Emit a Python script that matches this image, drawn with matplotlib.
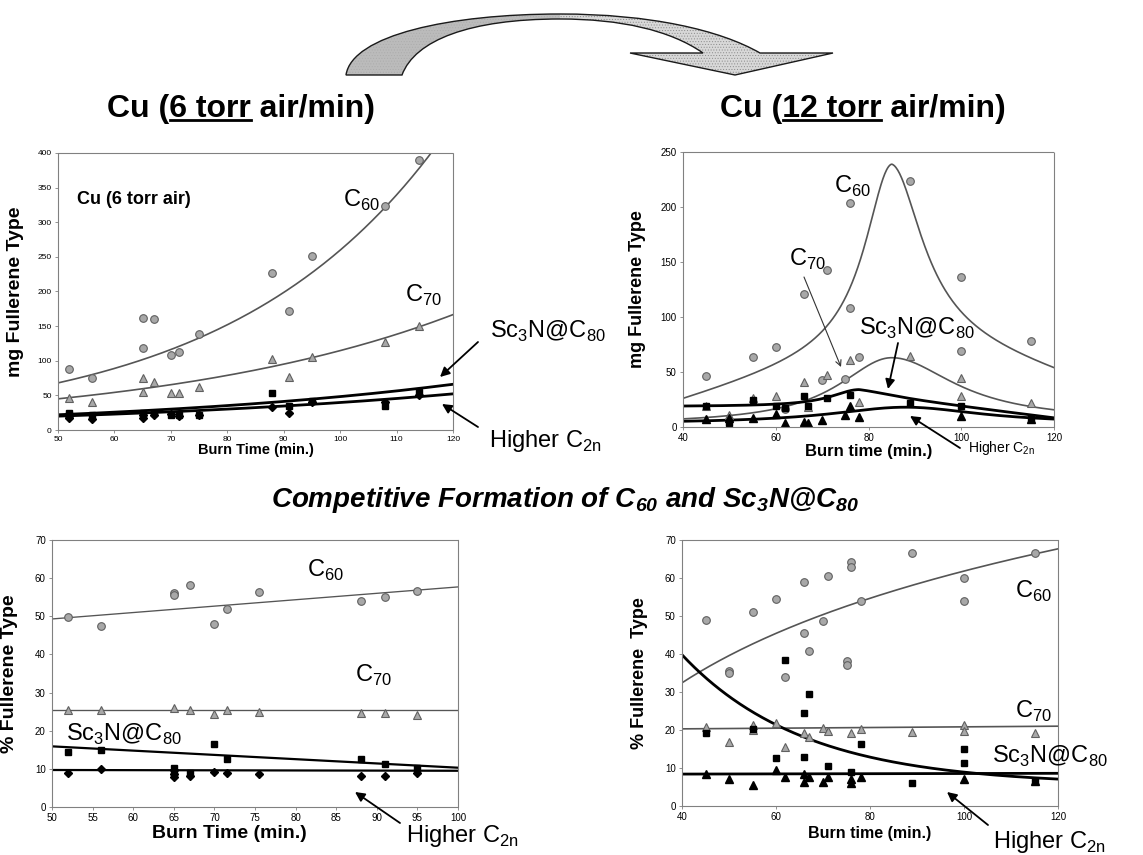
import numpy as np
import matplotlib
matplotlib.use("Agg")
import matplotlib.pyplot as plt
from matplotlib.patches import FancyArrowPatch, PathPatch, Rectangle
from matplotlib.path import Path
from matplotlib.lines import Line2D

W, H = 1143, 855
plt.rcParams['font.family'] = ['Liberation Sans', 'DejaVu Sans']
plt.rcParams['hatch.linewidth'] = 0.4

# ---------------- data ----------------
# Cu, 6 torr air/min : mg of each fullerene type vs burn time
t6_c60_x = [52, 56, 65, 65, 67, 70, 71.5, 75, 88, 91, 95, 108, 114]
t6_c60_y = [88, 75, 162, 119, 160, 108, 112, 138, 227, 172, 251, 323, 390]
t6_c70_x = [52, 56, 65, 65, 67, 70, 71.5, 75, 88, 91, 95, 108, 114]
t6_c70_y = [46, 40, 75, 55, 69, 54, 54, 62, 103, 77, 106, 127, 150]
t6_sc_x = [52, 52, 56, 65, 67, 70, 71.5, 75, 88, 91, 95, 108, 114]
t6_sc_y = [24, 22, 22, 25, 24, 22, 22, 22, 53, 35, 42, 34, 55]
t6_hi_x = [52, 52, 56, 65, 65, 67, 70, 71.5, 75, 88, 91, 95, 108, 114]
t6_hi_y = [17, 20, 16, 17, 22, 22, 23, 20, 21, 33, 25, 40, 40, 50]
# exponential trend lines  y = a * exp(b * (t - 50))
t6_trend_c60 = (68.0, 0.0268)
t6_trend_c70 = (45.0, 0.0187)
t6_trend_sc = (22.0, 0.0157)
t6_trend_hi = (20.0, 0.0137)

# Cu, 12 torr air/min : mg of each fullerene type vs burn time
t12_c60_x = [45, 55, 60, 62, 66, 70, 71, 75, 76, 76, 78, 89, 100, 100, 115]
t12_c60_y = [46, 64, 73, 16, 121, 43, 143, 44, 204, 108, 64, 224, 136, 69, 78]
t12_c70_x = [45, 50, 55, 60, 66, 67, 71, 76, 78, 89, 100, 100, 115]
t12_c70_y = [19, 11, 26, 28, 41, 18, 47, 61, 23, 65, 45, 28, 22]
t12_sc_x = [45, 50, 55, 60, 62, 66, 67, 71, 76, 89, 100, 115]
t12_sc_y = [19, 4, 25, 19, 17, 28, 19, 26, 29, 22, 19, 8]
t12_hi_x = [45, 50, 55, 60, 62, 66, 67, 70, 75, 76, 78, 100, 115]
t12_hi_y = [7, 8, 8, 12, 4, 5, 4, 6, 11, 19, 9, 10, 7]
# peaked trend curves: centre, top, (base, slope, width) left and right of centre
t12_trend_c60 = (85.0, 239.0, (75.6, 1.187, 7.0), (90.9, -1.265, 8.0))
t12_trend_c70 = (85.0, 63.0, (2.0, 0.0, 14.0), (5.0, 0.0, 16.6))
t12_trend_sc = (78.0, 34.0, (18.5, 0.0, 7.5), (30.0, -0.52, 9.0))
t12_trend_hi = (88.0, 18.0, (3.0, 0.0, 20.0), (3.0, 0.0, 20.0))

# Cu, 6 torr air/min : % of each fullerene type
p6_c60_x = [52, 56, 65, 65, 67, 70, 71.5, 75.5, 88, 91, 95]
p6_c60_y = [49.7, 47.4, 56.0, 55.6, 58.2, 47.9, 51.8, 56.3, 54.0, 55.1, 56.6]
p6_c70_x = [52, 56, 65, 67, 70, 71.5, 75.5, 88, 91, 95]
p6_c70_y = [25.4, 25.4, 26.0, 25.4, 24.5, 25.4, 25.0, 24.7, 24.7, 24.1]
p6_sc_x = [52, 56, 65, 65, 67, 70, 71.5, 88, 91, 95]
p6_sc_y = [14.3, 14.9, 10.3, 9.2, 9.0, 16.6, 12.7, 12.7, 11.4, 10.3]
p6_hi_x = [52, 56, 65, 65, 65, 67, 70, 71.5, 75.5, 88, 91, 95]
p6_hi_y = [9.0, 10.0, 9.6, 7.9, 8.7, 8.1, 9.3, 8.9, 8.7, 8.0, 8.0, 9.0]
# linear trend lines  y = y50 + slope * (t - 50)
p6_trend_c60 = (49.3, 0.168)
p6_trend_c70 = (25.4, 0.0)
p6_trend_sc = (15.9, -0.112)
p6_trend_hi = (9.7, -0.004)

# Cu, 12 torr air/min : % of each fullerene type
p12_c60_x = [45, 50, 50, 55, 60, 62, 66, 66, 67, 70, 71, 75, 75, 76, 76, 78, 89, 100, 100, 115]
p12_c60_y = [48.9, 35.6, 35.0, 51.0, 54.5, 33.9, 58.9, 45.6, 40.9, 48.8, 60.4, 38.2, 37.0,
             64.3, 63.0, 54.0, 66.7, 59.9, 54.0, 66.7]
p12_c70_x = [45, 50, 55, 55, 60, 62, 66, 67, 70, 71, 76, 78, 89, 100, 100, 115]
p12_c70_y = [20.9, 16.8, 21.3, 20.0, 21.9, 15.4, 19.3, 18.2, 20.4, 19.8, 19.1, 20.2, 19.5,
             21.3, 19.7, 19.1]
p12_sc_x = [45, 55, 60, 62, 66, 66, 67, 71, 76, 78, 89, 100, 100, 115]
p12_sc_y = [19.3, 20.2, 12.7, 38.4, 24.4, 13.0, 29.5, 10.5, 9.0, 16.3, 6.0, 14.9, 11.2, 6.6]
p12_hi_x = [45, 50, 55, 60, 62, 66, 66, 67, 70, 71, 76, 76, 78, 100, 115]
p12_hi_y = [8.4, 7.2, 5.6, 9.6, 7.6, 8.3, 6.4, 7.6, 6.3, 7.6, 6.0, 7.0, 7.6, 7.0, 6.6]
p12_trend_c60 = (-86.0, 32.1)          # y = a + b ln t
p12_trend_c70 = (20.3, 0.0088)         # y = y40 + slope (t - 40)
p12_trend_sc = (5.5, 34.3, 26.0)       # y = c + a exp(-(t - 40) / tau)
p12_trend_hi = (8.4, 0.0025)           # y = y40 + slope (t - 40)

# ---------------- helpers ----------------
fig = plt.figure(figsize=(W / 100, H / 100), dpi=100)


def fx(x):
    return x / W


def fy(y):
    return 1 - y / H


def make_axes(l, t, r, b, tick_size=7):
    ax = fig.add_axes([fx(l), fy(b), (r - l) / W, (b - t) / H])
    for s in ax.spines.values():
        s.set_linestyle((0, (1, 1)))
        s.set_color('#808080')
        s.set_linewidth(0.8)
    ax.tick_params(labelsize=tick_size, length=2.5, width=0.6, color='#808080', pad=2)
    return ax


C60_STYLE = dict(ls='none', marker='o', ms=5.5, mfc='#a8a8a8', mec='#606060', mew=0.8)
C70_STYLE = dict(ls='none', marker='^', ms=5.5, mfc='#a8a8a8', mec='#606060', mew=0.8)
SQ_STYLE = dict(ls='none', marker='s', ms=4.2, mfc='black', mec='black')
DI_STYLE = dict(ls='none', marker='D', ms=4.2, mfc='black', mec='black')
TRI_STYLE = dict(ls='none', marker='^', ms=5.2, mfc='black', mec='black')
THIN = dict(color='#555555', lw=1.2)
THICK = dict(color='black', lw=2.0)


def peak_curve(t, spec):
    x0, top, left, right = spec
    out = np.empty_like(t)
    for side, mask in ((left, t < x0), (right, t >= x0)):
        b, s, w = side
        d = t[mask] - x0
        out[mask] = b + s * d + (top - b) / (1 + (d / w) ** 2)
    return out


def label(x, y, s, size=17, **kw):
    fig.text(fx(x), fy(y), s, fontsize=size, va='baseline', ha='left', **kw)


def arrow(x0, y0, x1, y1, style='-|>', ms=14, lw=1.3, color='black'):
    fig.add_artist(FancyArrowPatch((fx(x0), fy(y0)), (fx(x1), fy(y1)),
                                   transform=fig.transFigure, arrowstyle=style,
                                   mutation_scale=ms, lw=lw, color=color,
                                   shrinkA=0, shrinkB=0))


C60 = r'C$_\mathregular{60}$'
C70 = r'C$_\mathregular{70}$'
SC = r'Sc$_\mathregular{3}$N@C$_\mathregular{80}$'
HI = r'Higher C$_\mathregular{2n}$'

# ---------------- panel: 6 torr, mg ----------------
ax1 = make_axes(58, 153, 453, 430, tick_size=6)
tt = np.linspace(50, 120, 300)
ax1.plot(tt, t6_trend_c60[0] * np.exp(t6_trend_c60[1] * (tt - 50)), **THIN)
ax1.plot(tt, t6_trend_c70[0] * np.exp(t6_trend_c70[1] * (tt - 50)), **THIN)
ax1.plot(tt, t6_trend_sc[0] * np.exp(t6_trend_sc[1] * (tt - 50)), **THICK)
ax1.plot(tt, t6_trend_hi[0] * np.exp(t6_trend_hi[1] * (tt - 50)), **THICK)
ax1.plot(t6_c60_x, t6_c60_y, **C60_STYLE)
ax1.plot(t6_c70_x, t6_c70_y, **C70_STYLE)
ax1.plot(t6_sc_x, t6_sc_y, **SQ_STYLE)
ax1.plot(t6_hi_x, t6_hi_y, **DI_STYLE)
ax1.set_xlim(50, 120)
ax1.set_ylim(0, 400)
ax1.set_xticks(range(50, 121, 10))
ax1.set_yticks(range(0, 401, 50))
ax1.set_ylabel('mg Fullerene Type', fontsize=14, fontweight='bold')
ax1.yaxis.set_label_coords(-0.085, 0.5)
ax1.set_xlabel('Burn Time (min.)', fontsize=10.5, fontweight='bold', va='center')
ax1.xaxis.set_label_coords(0.5, -0.072)

# ---------------- panel: 12 torr, mg ----------------
ax2 = make_axes(683, 152, 1054, 427)
tt = np.linspace(40, 120, 400)
ax2.plot(tt, peak_curve(tt, t12_trend_c60), **THIN)
ax2.plot(tt, peak_curve(tt, t12_trend_c70), **THIN)
ax2.plot(tt, peak_curve(tt, t12_trend_sc), **THICK)
ax2.plot(tt, peak_curve(tt, t12_trend_hi), **THICK)
ax2.plot(t12_c60_x, t12_c60_y, **C60_STYLE)
ax2.plot(t12_c70_x, t12_c70_y, **C70_STYLE)
ax2.plot(t12_sc_x, t12_sc_y, **SQ_STYLE)
ax2.plot(t12_hi_x, t12_hi_y, **TRI_STYLE)
ax2.set_xlim(40, 120)
ax2.set_ylim(0, 250)
ax2.set_xticks(range(40, 121, 20))
ax2.set_yticks(range(0, 251, 50))
ax2.set_ylabel('mg Fullerene Type', fontsize=13, fontweight='bold')
ax2.yaxis.set_label_coords(-0.1, 0.5)
ax2.set_xlabel('Burn time (min.)', fontsize=12, fontweight='bold', va='center')
ax2.xaxis.set_label_coords(0.5, -0.09)

# ---------------- panel: 6 torr, % ----------------
ax3 = make_axes(52, 540, 458, 807)
tt = np.linspace(50, 100, 50)
for spec, st in ((p6_trend_c60, THIN), (p6_trend_c70, THIN), (p6_trend_sc, THICK), (p6_trend_hi, THICK)):
    ax3.plot(tt, spec[0] + spec[1] * (tt - 50), **(dict(st, lw=st['lw'] * 0.8)))
ax3.plot(p6_c60_x, p6_c60_y, **C60_STYLE)
ax3.plot(p6_c70_x, p6_c70_y, **C70_STYLE)
ax3.plot(p6_sc_x, p6_sc_y, **SQ_STYLE)
ax3.plot(p6_hi_x, p6_hi_y, **DI_STYLE)
ax3.set_xlim(50, 100)
ax3.set_ylim(0, 70)
ax3.set_xticks(range(50, 101, 5))
ax3.set_yticks(range(0, 71, 10))
ax3.set_ylabel('% Fullerene Type', fontsize=14, fontweight='bold')
ax3.yaxis.set_label_coords(-0.084, 0.5)
ax3.set_xlabel('Burn Time (min.)', fontsize=14, fontweight='bold', va='center')
ax3.xaxis.set_label_coords(0.436, -0.098)

# ---------------- panel: 12 torr, % ----------------
ax4 = make_axes(682, 540, 1058, 806)
tt = np.linspace(40, 120, 300)
ax4.plot(tt, p12_trend_c60[0] + p12_trend_c60[1] * np.log(tt), **THIN)
ax4.plot(tt, p12_trend_c70[0] + p12_trend_c70[1] * (tt - 40), **THIN)
ax4.plot(tt, p12_trend_sc[0] + p12_trend_sc[1] * np.exp(-(tt - 40) / p12_trend_sc[2]), **THICK)
ax4.plot(tt, p12_trend_hi[0] + p12_trend_hi[1] * (tt - 40), **THICK)
ax4.plot(p12_c60_x, p12_c60_y, **C60_STYLE)
ax4.plot(p12_c70_x, p12_c70_y, **C70_STYLE)
ax4.plot(p12_sc_x, p12_sc_y, **SQ_STYLE)
ax4.plot(p12_hi_x, p12_hi_y, **TRI_STYLE)
ax4.set_xlim(40, 120)
ax4.set_ylim(0, 70)
ax4.set_xticks(range(40, 121, 20))
ax4.set_yticks(range(0, 71, 10))
ax4.set_ylabel('% Fullerene  Type', fontsize=13, fontweight='bold')
ax4.yaxis.set_label_coords(-0.09, 0.5)
ax4.set_xlabel('Burn time (min.)', fontsize=11.5, fontweight='bold', va='center')
ax4.xaxis.set_label_coords(0.5, -0.105)

# ---------------- series labels and pointers ----------------
label(77, 204, 'Cu (6 torr air)', size=13, fontweight='bold')
label(343, 207, C60)
label(405, 302, C70)
label(490, 338, SC)
label(489, 447, HI)
arrow(478, 342, 440, 377)
arrow(478, 427, 442, 404)

label(834, 193, C60)
label(789, 266, C70)
label(859, 335, SC)
label(968, 452, HI, size=10)
arrow(804, 277, 841, 367, style='->', ms=10, lw=0.8, color='#333333')
arrow(898, 343, 888, 389)
arrow(960, 448, 910, 416)

label(307, 577, C60)
label(355, 682, C70)
label(66, 741, SC)
label(406, 842, HI)
arrow(400, 823, 355, 792)

label(1015, 598, C60)
label(1015, 718, C70)
label(992, 763, SC)
label(993, 848, HI)
arrow(988, 825, 947, 792)

# ---------------- headings ----------------
renderer = fig.canvas.get_renderer()


def underlined_heading(x, y, pre, mid, post, size):
    kw = dict(fontsize=size, fontweight='bold', va='baseline', ha='left')
    fig.text(fx(x), fy(y), pre + mid + post, **kw)
    widths = []
    for s in (pre, pre + mid):
        tmp = fig.text(fx(x), fy(y), s, **kw)
        widths.append(tmp.get_window_extent(renderer).width)
        tmp.remove()
    fig.add_artist(Line2D([fx(x + widths[0] + 1), fx(x + widths[1])], [fy(y + 3), fy(y + 3)],
                          color='black', lw=2.0, transform=fig.transFigure))


underlined_heading(107, 117, 'Cu (', '6 torr', ' air/min)', 23)
underlined_heading(720, 117, 'Cu (', '12 torr', ' air/min)', 23)

fig.text(fx(565), fy(507),
         r'Competitive Formation of C$_\mathregular{60}$ and Sc$_\mathregular{3}$N@C$_\mathregular{80}$',
         fontsize=20, fontweight='bold', style='italic', ha='center', va='baseline')

# curved arrow between the two headings
verts = [(346, 75), (352, 35), (450, 14), (560, 14),
         (650, 14), (720, 30), (760, 53),
         (833, 53), (735, 75), (630, 53), (703, 53),
         (670, 30), (620, 19), (560, 19),
         (470, 19), (415, 40), (402, 75), (346, 75)]
codes = [Path.MOVETO, Path.CURVE4, Path.CURVE4, Path.CURVE4,
         Path.CURVE4, Path.CURVE4, Path.CURVE4,
         Path.LINETO, Path.LINETO, Path.LINETO, Path.LINETO,
         Path.CURVE4, Path.CURVE4, Path.CURVE4,
         Path.CURVE4, Path.CURVE4, Path.CURVE4, Path.CLOSEPOLY]
arc_path = Path([(fx(x), fy(y)) for x, y in verts], codes)
body = PathPatch(arc_path, facecolor='#d8d8d8', edgecolor='#8c8c8c', hatch='......',
                 lw=0, transform=fig.transFigure)
fig.add_artist(body)
shade = Rectangle((fx(330), fy(90)), fx(230), 90 / H, facecolor='#b4b4b4', edgecolor='none',
                  transform=fig.transFigure, alpha=0.8)
fig.add_artist(shade)
shade.set_clip_path(body)
fig.add_artist(PathPatch(arc_path, facecolor='none', edgecolor='#1a1a1a', lw=1.0,
                         transform=fig.transFigure))

fig.savefig('out.png', dpi=100)
